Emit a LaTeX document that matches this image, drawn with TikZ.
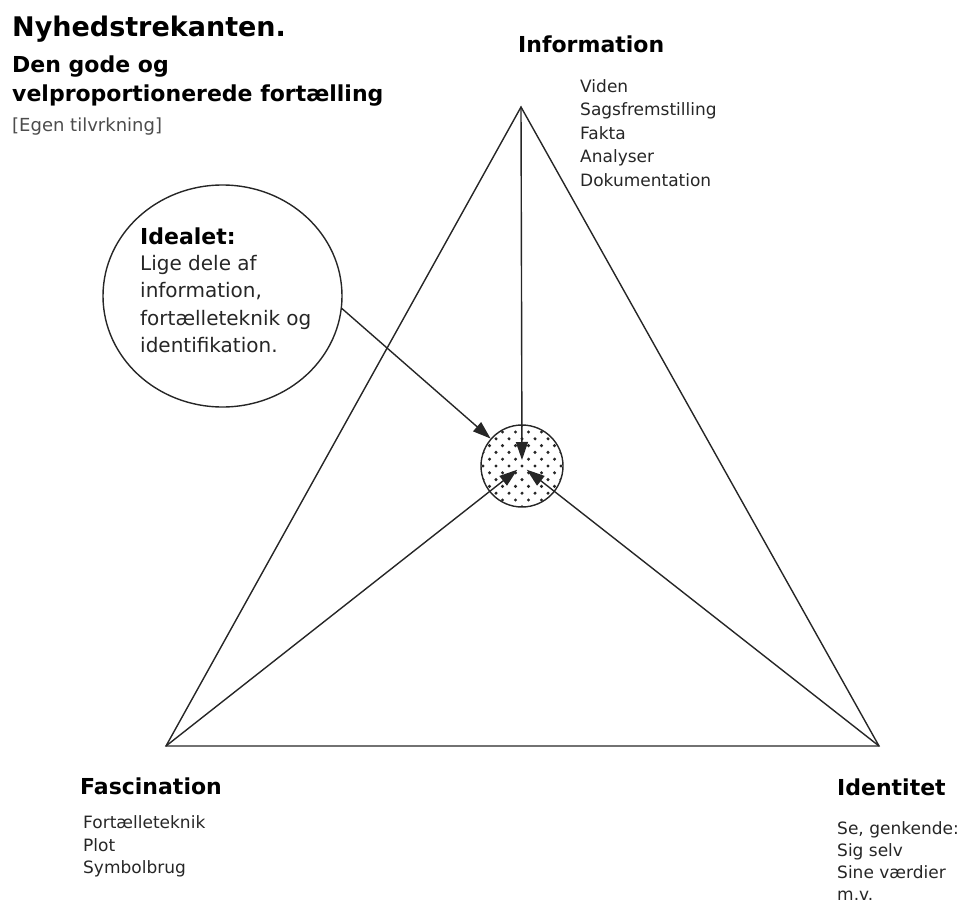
\documentclass[tikz,border=0pt]{standalone}
\usepackage{fontspec}
\setmainfont{DejaVu Sans}
\usetikzlibrary{arrows.meta,calc,shapes.geometric}
\begin{document}
\begin{tikzpicture}[x=1pt,y=-1pt,
  edge/.style={line width=1.4pt, draw=black!85},
  arr/.style={edge,-{Triangle[length=18pt,width=12pt]}},
  txt/.style={anchor=base west, inner sep=0, text=black!85},
  head/.style={txt, font=\bfseries\fontsize{22}{26}\selectfont, text=black},
  item/.style={txt, font=\fontsize{17}{20}\selectfont},
  bodytxt/.style={txt, font=\fontsize{20}{24}\selectfont},
  dotted circle/.style={circle, edge, minimum size=82, inner sep=0,
    path picture={
      \foreach \i in {-7,...,7} {
        \foreach \j in {-4,...,4} {
          \pgfmathsetmacro\xx{\j*13+6.5*mod(abs(\i),2)}
          \fill[black!85] (path picture bounding box.center) ++(\xx,\i*6.8) circle (1.7);
        }
      }
    }},
]
\useasboundingbox (0,0) rectangle (971,909);

% vertices
\coordinate (T) at (521,107);
\coordinate (BL) at (166,746);
\coordinate (BR) at (879,746);

% centre circle
\node[dotted circle] (sc) at (522,466) {};

% triangle
\draw[edge, line join=miter] (T) -- (BL) -- (BR) -- cycle;

% arrows to centre
\draw[arr] (T) -- ($(sc.center)!6pt!(T)$);
\draw[arr] (BL) -- ($(sc.center)!6pt!(BL)$);
\draw[arr] (BR) -- ($(sc.center)!6pt!(BR)$);

% ellipse
\node[ellipse, edge, minimum width=239, minimum height=222, inner sep=0] (ideal) at (222.5,296) {};
\draw[arr] (ideal.-6) -- (sc);

% title block
\node[txt, font=\bfseries\fontsize{27}{32}\selectfont, text=black] (title) at (12,37) {Nyhedstrekanten.};
\node[head] (sub1) at (12,73) {Den gode og};
\node[head] (sub2) at (12,102) {velproportionerede fortælling};
\node[txt, font=\fontsize{18}{21}\selectfont, text=black!70] (egen) at (12,132) {[Egen tilvrkning]};

% Information
\node[head] (info) at (518,53) {Information};
\node[item] (i1) at (580,92.5) {Viden};
\node[item] (i2) at (580,116) {Sagsfremstilling};
\node[item] (i3) at (580,139.5) {Fakta};
\node[item] (i4) at (580,163) {Analyser};
\node[item] (i5) at (580,186.5) {Dokumentation};

% Idealet
\node[head] (idh) at (140,245) {Idealet:};
\node[bodytxt] (id1) at (140,270.5) {Lige dele af};
\node[bodytxt] (id2) at (140,297.5) {information,};
\node[bodytxt] (id3) at (140,325) {fortælleteknik og};
\node[bodytxt] (id4) at (140,352.5) {identifikation.};

% Fascination
\node[head] (fas) at (80,794) {Fascination};
\node[item] (f1) at (83,828) {Fortælleteknik};
\node[item] (f2) at (83,851) {Plot};
\node[item] (f3) at (83,873) {Symbolbrug};

% Identitet
\node[head] (ide) at (837,795) {Identitet};
\node[item] (d1) at (837,834) {Se, genkende:};
\node[item] (d2) at (837,856) {Sig selv};
\node[item] (d3) at (837,878) {Sine værdier};
\node[item] (d4) at (837,900) {m.v.};
\end{tikzpicture}
\end{document}
